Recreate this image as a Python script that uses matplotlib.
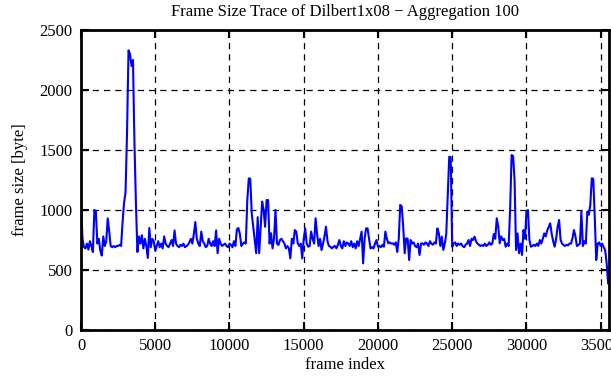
import numpy as np
import matplotlib
matplotlib.use("Agg")
import matplotlib.pyplot as plt

# Tamaño de trama agregado (cada 100 tramas)
paso = 100
tamanos = [
    1080, 760, 690, 680, 720, 670, 740, 700, 650, 1000,
    990, 720, 760, 660, 620, 780, 700, 740, 930, 820,
    700, 690, 700, 690, 700, 700, 710, 700, 900, 1060,
    1150, 1640, 2330, 2300, 2200, 2250, 1560, 1050, 650, 780,
    720, 790, 680, 760, 700, 600, 850, 690, 760, 740,
    660, 700, 740, 690, 720, 680, 780, 720, 700, 690,
    720, 750, 700, 830, 720, 700, 690, 710, 700, 720,
    690, 700, 710, 730, 760, 720, 800, 900, 760, 720,
    700, 820, 740, 720, 690, 700, 760, 720, 700, 740,
    700, 830, 640, 760, 720, 700, 710, 720, 700, 690,
    720, 710, 690, 740, 700, 840, 850, 800, 700, 720,
    730, 720, 1080, 1264, 1260, 970, 860, 750, 640, 940,
    640, 860, 1070, 1000, 860, 1083, 1083, 720, 806, 680,
    760, 1000, 720, 708, 750, 760, 740, 720, 680, 700,
    680, 597, 760, 720, 833, 820, 720, 700, 720, 597,
    760, 847, 720, 694, 700, 820, 760, 720, 931, 800,
    700, 760, 666, 720, 780, 861, 740, 700, 694, 680,
    694, 700, 680, 710, 750, 700, 680, 740, 700, 730,
    720, 700, 740, 690, 720, 680, 740, 700, 760, 820,
    555, 760, 847, 847, 760, 680, 690, 680, 720, 750,
    694, 700, 690, 710, 694, 820, 760, 722, 730, 720,
    722, 710, 730, 650, 760, 1042, 1030, 861, 639, 764,
    760, 583, 750, 720, 730, 700, 690, 720, 625, 720,
    722, 710, 730, 720, 700, 740, 720, 710, 730, 720,
    847, 806, 700, 778, 667, 720, 800, 1111, 1444, 1440,
    694, 720, 730, 700, 720, 710, 720, 700, 690, 710,
    720, 750, 700, 760, 750, 778, 740, 720, 710, 700,
    708, 700, 720, 700, 710, 730, 710, 720, 800, 760,
    931, 861, 722, 780, 750, 760, 694, 720, 700, 1000,
    1458, 1450, 1250, 667, 805, 640, 720, 625, 833, 760,
    986, 1000, 750, 694, 700, 710, 700, 720, 700, 750,
    720, 760, 805, 780, 830, 860, 889, 800, 740, 694,
    760, 860, 917, 750, 720, 708, 700, 710, 705, 720,
    720, 764, 833, 780, 700, 708, 720, 986, 700, 740,
    720, 986, 960, 1042, 1264, 1260, 944, 583, 720, 730,
    700, 720, 690, 667, 560, 389,
]
indices = np.arange(len(tamanos)) * paso

ticks_x = [0, 5000, 10000, 15000, 20000, 25000, 30000, 35000]
ticks_y = [0, 500, 1000, 1500, 2000, 2500]

plt.rcParams['font.family'] = ['Liberation Serif', 'DejaVu Serif']

fig = plt.figure(figsize=(6.11, 3.80), dpi=100)
ax = fig.add_axes([81 / 611, 50 / 380, 528 / 611, 300 / 380])

ax.plot(indices, tamanos, color='#0000ff', lw=1.5)

ax.set_xlim(0, 35560)
ax.set_ylim(0, 2500)
ax.set_xticks(ticks_x)
ax.set_yticks(ticks_y)
ax.tick_params(direction='in', length=6, width=1.5, top=True, right=True,
               labelsize=12, pad=6)
ax.grid(True, color='black', linestyle=(0, (5, 4)), lw=0.9)
for s in ax.spines.values():
    s.set_linewidth(2)

ax.set_title('Frame Size Trace of Dilbert1x08 − Aggregation 100', fontsize=12, pad=10)
ax.set_xlabel('frame index', fontsize=12, labelpad=2)
ax.set_ylabel('frame size [byte]', fontsize=12, labelpad=8)

fig.savefig('out.png', dpi=100)
